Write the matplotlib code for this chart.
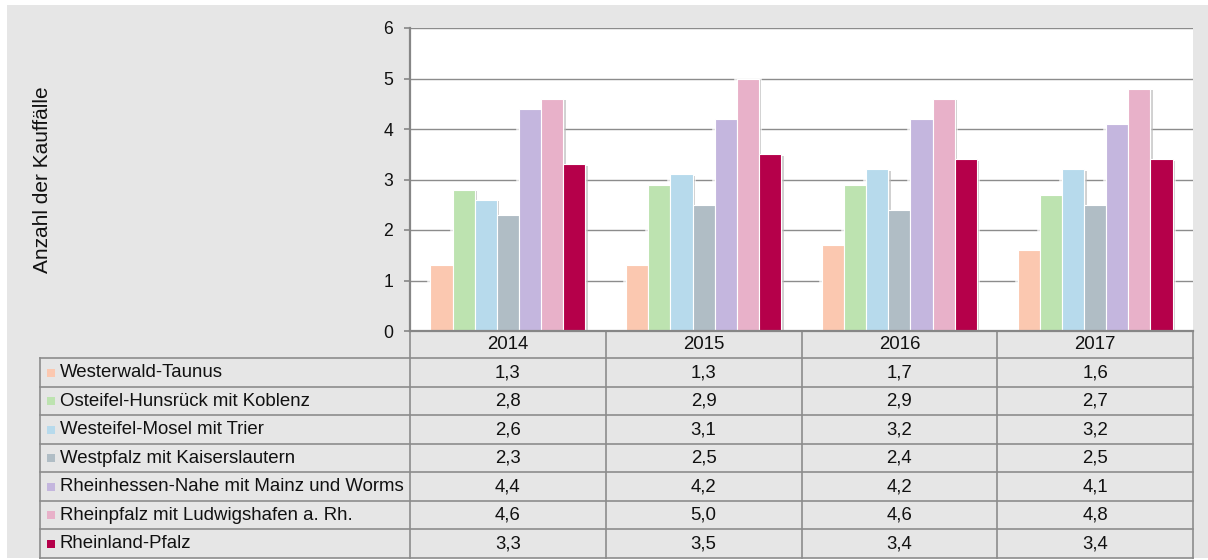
import matplotlib
matplotlib.use("Agg")
import matplotlib.pyplot as plt
import matplotlib.patheffects as pe
import matplotlib.transforms as mtransforms
from matplotlib.patches import Rectangle
from matplotlib.lines import Line2D
import numpy as np

plt.rcParams["font.family"] = ["Liberation Sans", "DejaVu Sans"]

# ---- data -------------------------------------------------------------
years = ["2014", "2015", "2016", "2017"]
regions = [
    "Westerwald-Taunus",
    "Osteifel-Hunsrück mit Koblenz",
    "Westeifel-Mosel mit Trier",
    "Westpfalz mit Kaiserslautern",
    "Rheinhessen-Nahe mit Mainz und Worms",
    "Rheinpfalz mit Ludwigshafen a. Rh.",
    "Rheinland-Pfalz",
]
westerwald_taunus = [1.3, 1.3, 1.7, 1.6]
osteifel_hunsrueck = [2.8, 2.9, 2.9, 2.7]
westeifel_mosel = [2.6, 3.1, 3.2, 3.2]
westpfalz = [2.3, 2.5, 2.4, 2.5]
rheinhessen_nahe = [4.4, 4.2, 4.2, 4.1]
rheinpfalz = [4.6, 5.0, 4.6, 4.8]
rheinland_pfalz = [3.3, 3.5, 3.4, 3.4]
series = [westerwald_taunus, osteifel_hunsrueck, westeifel_mosel, westpfalz,
          rheinhessen_nahe, rheinpfalz, rheinland_pfalz]
colors = ["#fbc8b0", "#bde3b0", "#b7daec", "#b0bdc5",
          "#c4b6de", "#e8b1c9", "#b5004a"]
y_ticks = [0, 1, 2, 3, 4, 5, 6]

# ---- figure geometry (pixels) ------------------------------------------
W, H = 1208, 560
BG = "#e6e6e6"
LINE = "#8c8c8c"
FS = 13.4


def fx(px):
    return px / W


def fy(py):
    return 1 - py / H


fig = plt.figure(figsize=(W / 100, H / 100), dpi=100, facecolor="white")
fig.patches.append(Rectangle((fx(7), fy(558)), fx(1208) - fx(7), fy(5) - fy(558),
                             transform=fig.transFigure, facecolor=BG,
                             edgecolor="none", zorder=-5))

ax = fig.add_axes([fx(410), fy(331), fx(1193) - fx(410), fy(28) - fy(331)])
ax.set_zorder(1)
ax.set_facecolor("white")
ax.set_xlim(-0.5, len(years) - 0.5)
ax.set_ylim(0, 6)
ax.set_axisbelow(True)
ax.set_yticks(y_ticks)
ax.set_xticks([])
ax.yaxis.grid(True, color=LINE, lw=1.0)
for s in ("top", "right"):
    ax.spines[s].set_visible(False)
for s in ("left", "bottom"):
    ax.spines[s].set_color("#868686")
    ax.spines[s].set_linewidth(1.6)
    ax.spines[s].set_zorder(4)
ax.tick_params(axis="y", length=4, color="#868686", width=1.2, pad=8,
               labelsize=12.7, labelcolor="#111111")

# ---- bars -------------------------------------------------------------
n = len(series)
bw = 0.113
x = np.arange(len(years))
for i, (vals, c) in enumerate(zip(series, colors)):
    pos = x + (i - (n - 1) / 2) * bw
    # soft white halo that interrupts the gridlines around the bars
    ax.bar(pos, vals, width=bw, color="white", edgecolor="white",
           linewidth=4, alpha=0.75, zorder=1.5)
for i, (vals, c) in enumerate(zip(series, colors)):
    pos = x + (i - (n - 1) / 2) * bw
    bars = ax.bar(pos, vals, width=bw, color=c, edgecolor="white",
                  linewidth=0.8, zorder=2)
    for b in bars:
        b.set_path_effects([pe.SimplePatchShadow(offset=(1.8, -1.2),
                                                 shadow_rgbFace="black",
                                                 alpha=0.18),
                            pe.Normal()])

fig.text(fx(43), fy(180), "Anzahl der Kauffälle", rotation=90,
         ha="center", va="center", fontsize=15, color="#111111")

# ---- data table -------------------------------------------------------
blend = mtransforms.blended_transform_factory(ax.transData, fig.transFigure)
row_top = 358.3
row_h = 28.5
table_bottom = row_top + row_h * n
left_px = 40

# horizontal rules
for k in range(n + 1):
    yy = fy(row_top + k * row_h)
    fig.add_artist(Line2D([fx(left_px), fx(1193)], [yy, yy], color=LINE,
                          lw=1.2, transform=fig.transFigure, zorder=3))
# left frame of the label column
fig.add_artist(Line2D([fx(left_px), fx(left_px)], [fy(row_top), fy(table_bottom)],
                      color=LINE, lw=1.2, transform=fig.transFigure, zorder=3))
# column separators, aligned with the category axis
for k in range(len(years) + 1):
    xb = k - 0.5
    ax.add_line(Line2D([xb, xb], [fy(331), fy(table_bottom)], color=LINE,
                       lw=1.2, transform=blend, clip_on=False, zorder=3))

# header row with years
for j, yr in enumerate(years):
    ax.text(j, fy((331 + row_top) / 2), yr, transform=blend, ha="center",
            va="center", fontsize=FS, color="#111111", clip_on=False)

# body rows: legend key, region name and values
for i, (name, vals, c) in enumerate(zip(regions, series, colors)):
    yc = row_top + (i + 0.5) * row_h
    fig.patches.append(Rectangle((fx(46.5), fy(yc + 4)), fx(8), 8 / H,
                                 transform=fig.transFigure, facecolor=c,
                                 edgecolor="none", zorder=3))
    fig.text(fx(60), fy(yc), name, ha="left", va="center", fontsize=FS,
             color="#111111")
    for j, v in enumerate(vals):
        ax.text(j, fy(yc), f"{v:.1f}".replace(".", ","), transform=blend,
                ha="center", va="center", fontsize=FS, color="#111111",
                clip_on=False)

fig.savefig("out.png", dpi=100, facecolor="white")
